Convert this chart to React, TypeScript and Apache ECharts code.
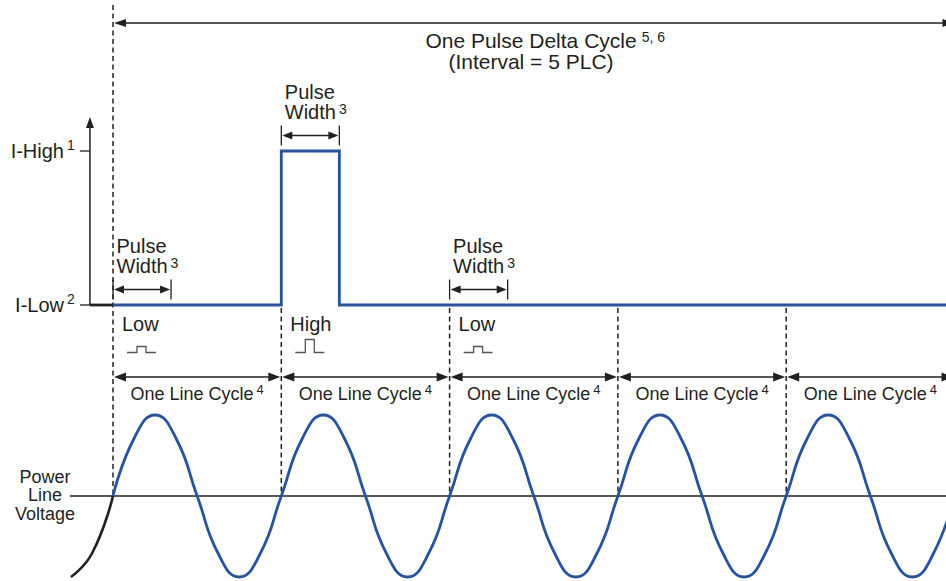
import React, { useEffect, useRef } from "react";
import * as echarts from "echarts";

const WIDTH = 946;
const HEIGHT = 581;

// ---------- data (time in power-line cycles) ----------
const lineCycleBoundaries = [0, 1, 2, 3, 4, 5];
const pulseCycles = [0, 1, 2];
const pulseKinds = ["Low", "High", "Low"];
const pulseKindLevels = [0, 1, 0];
const pulseWidth = 0.345;

const currentTimes = [0, 1, 1, 1.345, 1.345, 4.95];
const currentLevels = [0, 0, 1, 1, 0, 0];
const currentLeadTimes = [-0.137, 0];
const currentLeadLevels = [0, 0];
const currentAxisTime = -0.137;
const currentTickLevels = [1, 0];
const currentTickLabels = ["I-High", "I-Low"];
const currentTickNotes = ["1", "2"];

const sineTimes = [
  0, 0.125, 0.25, 0.375, 0.5, 0.625, 0.75, 0.875,
  1, 1.125, 1.25, 1.375, 1.5, 1.625, 1.75, 1.875,
  2, 2.125, 2.25, 2.375, 2.5, 2.625, 2.75, 2.875,
  3, 3.125, 3.25, 3.375, 3.5, 3.625, 3.75, 3.875,
  4, 4.125, 4.25, 4.375, 4.5, 4.625, 4.75, 4.875,
  5,
];
const sineValues = [
  0, 0.71, 1, 0.71, 0, -0.71, -1, -0.71,
  0, 0.71, 1, 0.71, 0, -0.71, -1, -0.71,
  0, 0.71, 1, 0.71, 0, -0.71, -1, -0.71,
  0, 0.71, 1, 0.71, 0, -0.71, -1, -0.71,
  0, 0.71, 1, 0.71, 0, -0.71, -1, -0.71,
  0,
];
const sineLeadTimes = [-0.25, -0.125, 0];
const sineLeadValues = [-1, -0.71, 0];
const voltageAxisTimes = [-0.256, 4.95];
const voltageAxisValues = [0, 0];

const titleLines = ["One Pulse Delta Cycle", "(Interval = 5 PLC)"];
const titleNote = "5, 6";
const pulseWidthLines = ["Pulse", "Width"];
const pulseWidthNote = "3";
const lineCycleLabel = "One Line Cycle";
const lineCycleNote = "4";
const voltageLabelLines = ["Power", "Line", "Voltage"];

// ---------- layout / style ----------
const X0_PX = 113;
const CYCLE_PX = 168.3;
const LOW_PX = 305;
const HIGH_PX = 151;
const VZERO_PX = 496;
const VAMP_PX = 81;

const BLUE = "#2552a5";
const INK = "#231f20";
const FONT = '"Liberation Sans", Arial, Helvetica, sans-serif';

const measureCtx = (() => {
  const c = document.createElement("canvas");
  return c.getContext("2d") as CanvasRenderingContext2D;
})();
function measure(text: string, fs: number) {
  measureCtx.font = `${fs}px ${FONT}`;
  return measureCtx.measureText(text).width;
}

function txt(text: string, x: number, baseline: number, fs: number, align = "left", fill = INK) {
  return {
    type: "text",
    x,
    y: baseline - 0.3465 * fs,
    silent: true,
    style: {
      text,
      fontSize: fs,
      fontFamily: FONT,
      fill,
      align,
      textAlign: align,
      verticalAlign: "middle",
      textVerticalAlign: "middle",
    },
  };
}

function seg(x1: number, y1: number, x2: number, y2: number, width = 1.4, dash?: number[], color = INK) {
  return {
    type: "line",
    silent: true,
    shape: { x1, y1, x2, y2 },
    style: { stroke: color, lineWidth: width, lineDash: dash, lineCap: "butt" },
  };
}

function head(tipX: number, tipY: number, dir: "left" | "right" | "up", len = 11, half = 4) {
  let pts: number[][];
  if (dir === "left") pts = [[tipX, tipY], [tipX + len, tipY - half], [tipX + len, tipY + half]];
  else if (dir === "right") pts = [[tipX, tipY], [tipX - len, tipY - half], [tipX - len, tipY + half]];
  else pts = [[tipX, tipY], [tipX - half, tipY + len], [tipX + half, tipY + len]];
  return { type: "polygon", silent: true, shape: { points: pts }, style: { fill: INK } };
}

function buildAnnotations(chart: echarts.ECharts) {
  const px = (t: number) => chart.convertToPixel({ xAxisIndex: 0 }, t) as number;
  const cy = (v: number) => chart.convertToPixel({ yAxisIndex: 0 }, v) as number;
  const vy = (v: number) => chart.convertToPixel({ yAxisIndex: 1 }, v) as number;
  const els: any[] = [];

  // dashed cycle boundaries
  lineCycleBoundaries.slice(0, -1).forEach((b, i) => {
    const y1 = i === 0 ? 5 : cy(0) + 3;
    els.push(seg(px(b), y1, px(b), vy(0), 1.5, [5, 3.5], INK));
  });

  // top arrow (one pulse delta cycle)
  const first = lineCycleBoundaries[0];
  const last = lineCycleBoundaries[lineCycleBoundaries.length - 1];
  const TOP_Y = 23;
  els.push(seg(px(first) + 6, TOP_Y, px(last), TOP_Y, 1.6));
  els.push(head(px(first) + 1, TOP_Y, "left", 12, 4));
  els.push(head(px(last), TOP_Y, "right", 12, 4));

  // title
  const TITLE_CX = 531;
  els.push(txt(titleLines[0], TITLE_CX, 48, 21, "center"));
  els.push(txt(titleNote, TITLE_CX + measure(titleLines[0], 21) / 2 + 5, 42, 14, "left"));
  els.push(txt(titleLines[1], TITLE_CX, 69, 21, "center"));

  // current axis
  const ax = px(currentAxisTime);
  els.push(seg(ax, cy(0), ax, 127, 1.5));
  els.push(head(ax, 117, "up", 11, 4));
  currentTickLevels.forEach((lv, i) => {
    const y = cy(lv);
    els.push(seg(ax - 10, y, ax, y, 1.3));
    els.push(txt(currentTickLabels[i], 64, y + 6.5, 20, "right"));
    els.push(txt(currentTickNotes[i], 67, y - 1.5, 14, "left"));
  });

  // pulse width dimensions + labels + kind labels + icons
  pulseCycles.forEach((c, i) => {
    const lv = pulseKindLevels[i];
    const x1 = px(c);
    const x2 = px(c + pulseWidth);
    const dy = cy(lv) - 15.5;
    els.push(seg(x1 + 5, dy, x2 - 5, dy, 1.5));
    els.push(head(x1 + 1, dy, "left", 10, 4));
    els.push(head(x2 - 1, dy, "right", 10, 4));
    els.push(seg(x1, dy - 10, x1, dy + 10, 1.3));
    els.push(seg(x2, dy - 10, x2, dy + 10, 1.3));
    els.push(txt(pulseWidthLines[0], x1 + 3.5, dy - 37, 20));
    els.push(txt(pulseWidthLines[1], x1 + 3.5, dy - 17, 20));
    els.push(txt(pulseWidthNote, x1 + 3.5 + measure(pulseWidthLines[1], 20) + 3, dy - 22, 14));

    els.push(txt(pulseKinds[i], x1 + 9, 331, 20));
    const base = 352.5;
    const h = lv ? 13 : 6;
    els.push({
      type: "polyline",
      silent: true,
      shape: {
        points: [
          [x1 + 14, base], [x1 + 24, base], [x1 + 24, base - h],
          [x1 + 33, base - h], [x1 + 33, base], [x1 + 43, base],
        ],
      },
      style: { stroke: "#555", lineWidth: 1.3, fill: null },
    });
  });

  // line cycle arrows + labels
  const CY_Y = 377;
  for (let i = 0; i < lineCycleBoundaries.length - 1; i++) {
    const a = px(lineCycleBoundaries[i]) + 1;
    const b = px(lineCycleBoundaries[i + 1]) - 1;
    els.push(seg(a + 6, CY_Y, b - 6, CY_Y, 1.5));
    els.push(head(a, CY_Y, "left", 12, 4.5));
    els.push(head(b, CY_Y, "right", 12, 4.5));
    const w1 = measure(lineCycleLabel, 18);
    const w2 = measure(lineCycleNote, 13);
    const total = w1 + 3 + w2;
    const cx = (a + b) / 2;
    const left = cx - total / 2;
    els.push(txt(lineCycleLabel, left, 400, 18));
    els.push(txt(lineCycleNote, left + w1 + 3, 394, 13));
  }

  // power line voltage label
  const baseY = vy(0);
  [-13, 5.5, 24].forEach((off, i) => {
    els.push(txt(voltageLabelLines[i], 45, baseY + off, 18, "center"));
  });

  return els;
}

const pairs = (xs: number[], ys: number[]) => xs.map((x, i) => [x, ys[i]]);

const option: any = {
  animation: false,
  backgroundColor: "#ffffff",
  grid: { left: 0, right: 0, top: 0, bottom: 0, containLabel: false },
  xAxis: {
    type: "value",
    min: -X0_PX / CYCLE_PX,
    max: (WIDTH - X0_PX) / CYCLE_PX,
    show: false,
  },
  yAxis: [
    {
      type: "value",
      min: -(HEIGHT - LOW_PX) / (LOW_PX - HIGH_PX),
      max: LOW_PX / (LOW_PX - HIGH_PX),
      show: false,
    },
    {
      type: "value",
      min: -(HEIGHT - VZERO_PX) / VAMP_PX,
      max: VZERO_PX / VAMP_PX,
      show: false,
    },
  ],
  series: [
    {
      name: "Voltage axis",
      type: "line",
      yAxisIndex: 1,
      data: pairs(voltageAxisTimes, voltageAxisValues),
      symbol: "none",
      lineStyle: { color: INK, width: 1.3 },
      z: 1,
    },
    {
      name: "Current lead",
      type: "line",
      yAxisIndex: 0,
      data: pairs(currentLeadTimes, currentLeadLevels),
      symbol: "none",
      lineStyle: { color: INK, width: 2.8 },
      z: 3,
    },
    {
      name: "Current",
      type: "line",
      yAxisIndex: 0,
      data: pairs(currentTimes, currentLevels),
      symbol: "none",
      lineStyle: { color: BLUE, width: 2.8, join: "miter", cap: "butt" },
      z: 3,
    },
    {
      name: "Voltage lead",
      type: "line",
      yAxisIndex: 1,
      smooth: 0.5,
      data: pairs(sineLeadTimes, sineLeadValues),
      symbol: "none",
      lineStyle: { color: INK, width: 2.6 },
      z: 3,
    },
    {
      name: "Voltage",
      type: "line",
      yAxisIndex: 1,
      smooth: 0.5,
      data: pairs(sineTimes, sineValues),
      symbol: "none",
      lineStyle: { color: BLUE, width: 2.8 },
      z: 3,
    },
  ],
};

export default function App() {
  const ref = useRef<HTMLDivElement>(null);
  useEffect(() => {
    const el = ref.current as HTMLDivElement;
    const chart = echarts.init(el, null, { renderer: "svg", width: WIDTH, height: HEIGHT });
    chart.setOption(option);
    chart.setOption({ graphic: { elements: buildAnnotations(chart) } });
    return () => chart.dispose();
  }, []);
  return (
    <div
      ref={ref}
      style={{ position: "fixed", left: 0, top: 0, width: WIDTH, height: HEIGHT, background: "#fff" }}
    />
  );
}
